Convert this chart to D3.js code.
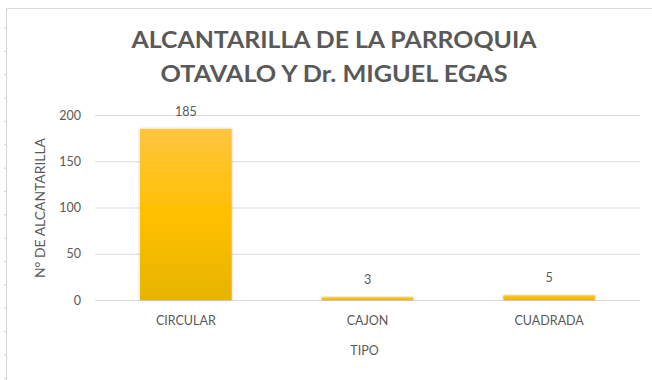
<!DOCTYPE html>
<html>
<head>
<meta charset="utf-8">
<script src="https://cdn.jsdelivr.net/npm/d3@7"></script>
<style>
  html, body { margin: 0; padding: 0; background: #fff; }
  svg { display: block; }
  text { font-family: Lato, "Open Sans", "Liberation Sans", sans-serif; fill: #595959; }
</style>
</head>
<body>
<svg id="chart" width="652" height="380"></svg>
<script>
// Alcantarillas por tipo
const categories = ["CIRCULAR", "CAJON", "CUADRADA"];
const values = [185, 3, 5];
const yTicks = [0, 50, 100, 150, 200];
const titleLines = ["ALCANTARILLA DE LA PARROQUIA", "OTAVALO Y Dr. MIGUEL EGAS"];
const xTitle = "TIPO";
const yTitle = "N° DE ALCANTARILLA";

const svg = d3.select("#chart");
const W = 652, H = 380;

// chart area frame (top and left edges visible)
svg.append("line").attr("x1", 6.5).attr("x2", W).attr("y1", 8.5).attr("y2", 8.5)
  .attr("stroke", "#d9d9d9").attr("stroke-width", 1.2);
svg.append("line").attr("x1", 6.5).attr("x2", 6.5).attr("y1", 8.5).attr("y2", H)
  .attr("stroke", "#d9d9d9").attr("stroke-width", 1.2);
// small ruler marks along the left edge
d3.range(28, H, 23.35).forEach(y => {
  svg.append("line").attr("x1", 4).attr("x2", 6).attr("y1", y).attr("y2", y)
    .attr("stroke", "#cfcfcf").attr("stroke-width", 1);
});

const plot = { left: 95, right: 640, top: 115, bottom: 300 };

const x = d3.scaleBand().domain(categories).range([plot.left, plot.right]).paddingInner(0.495).paddingOuter(0.2475);
const y = d3.scaleLinear().domain([0, 200]).range([plot.bottom, plot.top]);

// gradient fill
const defs = svg.append("defs");
const grad = defs.append("linearGradient").attr("id", "barGrad")
  .attr("x1", 0).attr("y1", 0).attr("x2", 0).attr("y2", 1);
grad.append("stop").attr("offset", "0%").attr("stop-color", "#ffc53f");
grad.append("stop").attr("offset", "50%").attr("stop-color", "#ffc000");
grad.append("stop").attr("offset", "100%").attr("stop-color", "#e6b400");
const shadow = defs.append("filter").attr("id", "shadow").attr("x", "-10%").attr("y", "-10%").attr("width", "130%").attr("height", "130%");
shadow.append("feDropShadow").attr("dx", 0).attr("dy", 0).attr("stdDeviation", 1.6)
  .attr("flood-color", "#000").attr("flood-opacity", 0.25);

// gridlines
const yAxis = d3.axisLeft(y).tickValues(yTicks).tickSize(-(plot.right - plot.left)).tickPadding(14);
const gy = svg.append("g").attr("transform", `translate(${plot.left},0)`).call(yAxis);
gy.select(".domain").remove();
gy.selectAll(".tick line").attr("stroke", "#d9d9d9").attr("stroke-width", 1);
gy.selectAll(".tick text").attr("font-size", 12.5).style("fill", "#595959")
  .style("font-family", "Lato, 'Open Sans', sans-serif");

// bars
svg.append("g").selectAll("rect").data(categories).join("rect")
  .attr("x", d => x(d))
  .attr("width", x.bandwidth())
  .attr("y", (d, i) => y(values[i]))
  .attr("height", (d, i) => y(0) - y(values[i]))
  .attr("fill", "url(#barGrad)")
  .attr("filter", "url(#shadow)");

// value labels
svg.append("g").selectAll("text").data(categories).join("text")
  .attr("x", d => x(d) + x.bandwidth() / 2)
  .attr("y", (d, i) => y(values[i]) - 13)
  .attr("text-anchor", "middle")
  .attr("font-size", 12.5)
  .text((d, i) => values[i]);

// x axis labels
const xAxis = d3.axisBottom(x).tickSize(0).tickPadding(16);
const gx = svg.append("g").attr("transform", `translate(0,${plot.bottom})`).call(xAxis);
gx.select(".domain").remove();
gx.selectAll(".tick text").attr("font-size", 12.5).style("fill", "#595959")
  .style("font-family", "Lato, 'Open Sans', sans-serif");

// axis titles
svg.append("text").attr("x", (plot.left + plot.right) / 2 - 3).attr("y", 355)
  .attr("text-anchor", "middle").attr("font-size", 12.5).text(xTitle);
svg.append("text").attr("transform", `translate(45,208) rotate(-90)`)
  .attr("text-anchor", "middle").attr("font-size", 13.5)
  .attr("textLength", 140).attr("lengthAdjust", "spacingAndGlyphs")
  .text(yTitle);

// chart title
const titleY = [48, 82];
const titleW = [405, 347];
titleLines.forEach((t, i) => {
  svg.append("text").attr("x", 334).attr("y", titleY[i])
    .attr("text-anchor", "middle").attr("font-size", 22).attr("font-weight", "bold")
    .attr("textLength", titleW[i]).attr("lengthAdjust", "spacingAndGlyphs")
    .text(t);
});
</script>
</body>
</html>
